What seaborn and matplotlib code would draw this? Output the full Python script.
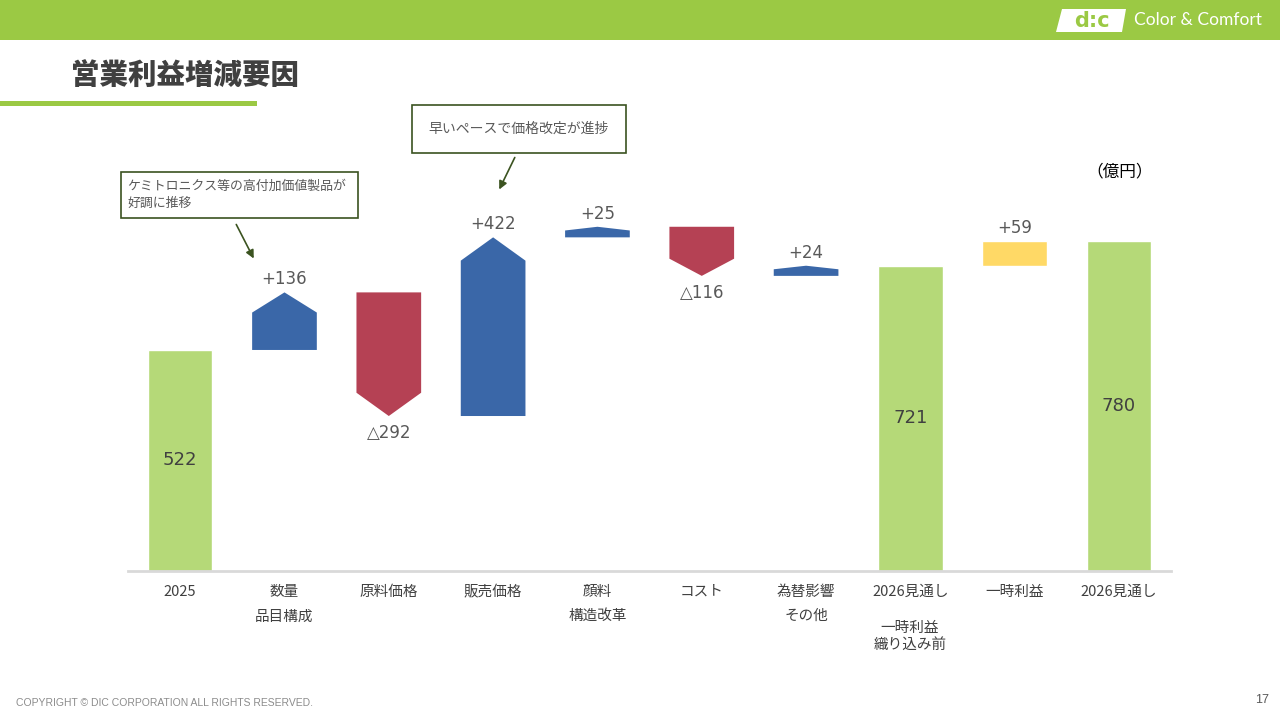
import pandas as pd
import seaborn as sns
import matplotlib.pyplot as plt
from matplotlib.patches import Polygon, Rectangle

# data (億円)
labels = ["2025", "数量\n品目構成", "原料価格", "販売価格", "顔料\n構造改革",
          "コスト", "為替影響\nその他", "2026見通し", "一時利益", "2026見通し"]
start = 522
deltas = [136, -292, 422, 25, -116, 24]
total_before = 721
one_off = 59
total_after = 780

keys = [f"c{i}" for i in range(len(labels))]
totals = pd.DataFrame({"key": [keys[0], keys[7], keys[9]],
                       "value": [start, total_before, total_after]})

GREEN = "#B5D978"
BLUE = "#3A67A8"
RED = "#B54154"
YELLOW = "#FFD966"
TXT = "#595959"
BAR_W = 0.62
NUM_FONT = ["DejaVu Sans", "Noto Sans CJK JP"]

sns.set_theme(style="white")
plt.rcParams["font.family"] = ["Noto Sans CJK JP", "DejaVu Sans"]

fig = plt.figure(figsize=(12.8, 7.2), dpi=100)
ax = fig.add_axes([0.1, 0.207, 0.815, 0.588])

sns.barplot(data=totals, x="key", y="value", order=keys, color=GREEN,
            width=BAR_W, saturation=1, ax=ax)

# floating arrow-shaped bars
level = start
for i, d in enumerate(deltas, start=1):
    b, t = level, level + d
    tip = min(0.35 * abs(d), 55)
    l, r = i - BAR_W / 2, i + BAR_W / 2
    if d > 0:
        pts = [(l, b), (r, b), (r, t - tip), (i, t), (l, t - tip)]
        ax.add_patch(Polygon(pts, closed=True, facecolor=BLUE, edgecolor="none"))
        ax.text(i, t + 31, f"+{d}", ha="center", va="center", fontsize=12,
                color=TXT, family=NUM_FONT)
    else:
        pts = [(l, b), (r, b), (r, t + tip), (i, t), (l, t + tip)]
        ax.add_patch(Polygon(pts, closed=True, facecolor=RED, edgecolor="none"))
        ax.text(i, t - 40, f"△{-d}", ha="center", va="center", fontsize=12,
                color=TXT, family=NUM_FONT)
    level = t

# one-off gain bar
ax.bar(8, one_off, bottom=total_before, width=BAR_W, color=YELLOW)
ax.text(8, total_before + one_off + 31, f"+{one_off}", ha="center", va="center",
        fontsize=12, color=TXT, family=NUM_FONT)

for i, v in zip([0, 7, 9], [start, total_before, total_after]):
    ax.text(i, v / 2, str(v), ha="center", va="center", fontsize=13,
            color="#404040", family=NUM_FONT)

ax.set_xlim(-0.5, 9.5)
ax.set_ylim(0, 1000)
ax.set_xticks(range(len(labels)), labels, fontsize=10.5, color="#404040",
              linespacing=1.95, va="top")
ax.tick_params(axis="x", length=0, pad=10)
ax.set_yticks([])
ax.set_xlabel("")
ax.set_ylabel("")
for s in ["top", "left", "right"]:
    ax.spines[s].set_visible(False)
ax.spines["bottom"].set_color("#D9D9D9")
ax.spines["bottom"].set_linewidth(2)

# extra lines under the first 2026 label
fig.text(910 / 1280, 1 - 628 / 720, "一時利益", ha="center", va="center",
         fontsize=10.5, color="#404040")
fig.text(910 / 1280, 1 - 645 / 720, "織り込み前", ha="center", va="center",
         fontsize=10.5, color="#404040")

# callouts
fig.add_artist(Rectangle((121 / 1280, 1 - 218 / 720), 237 / 1280, 46 / 720,
                         transform=fig.transFigure, facecolor="white",
                         edgecolor="#3B5320", linewidth=1.2))
fig.text(127 / 1280, 1 - 195 / 720, "ケミトロニクス等の高付加価値製品が\n好調に推移",
         ha="left", va="center", fontsize=9.3, color=TXT, linespacing=1.45)
ax.annotate("", xy=(255 / 1280, 1 - 261 / 720), xytext=(235 / 1280, 1 - 222 / 720),
            xycoords="figure fraction", textcoords="figure fraction",
            arrowprops=dict(arrowstyle="-|>", color="#3B5320", lw=1.2,
                            mutation_scale=12))

fig.add_artist(Rectangle((412 / 1280, 1 - 153 / 720), 214 / 1280, 48 / 720,
                         transform=fig.transFigure, facecolor="white",
                         edgecolor="#3B5320", linewidth=1.2))
fig.text(519 / 1280, 1 - 129 / 720, "早いペースで価格改定が進捗", ha="center",
         va="center", fontsize=10, color=TXT)
ax.annotate("", xy=(498 / 1280, 1 - 192 / 720), xytext=(516 / 1280, 1 - 155 / 720),
            xycoords="figure fraction", textcoords="figure fraction",
            arrowprops=dict(arrowstyle="-|>", color="#3B5320", lw=1.2,
                            mutation_scale=12))

fig.text(1120 / 1280, 1 - 172 / 720, "（億円）", ha="center", va="center",
         fontsize=12, color="black")

# header band, logo, title
fig.add_artist(Rectangle((0, 1 - 40 / 720), 1, 40 / 720, transform=fig.transFigure,
                         facecolor="#9BC944", edgecolor="none"))
fig.add_artist(Polygon([(1056 / 1280, 1 - 32 / 720), (1122 / 1280, 1 - 32 / 720),
                        (1126 / 1280, 1 - 9 / 720), (1062 / 1280, 1 - 9 / 720)],
                       closed=True, transform=fig.transFigure, facecolor="white",
                       edgecolor="none"))
fig.text(1092 / 1280, 1 - 21 / 720, "d:c", ha="center", va="center", fontsize=15,
         fontweight="bold", color="#9BC944", family="DejaVu Sans")
fig.text(1198 / 1280, 1 - 20 / 720, "Color & Comfort", ha="center", va="center",
         fontsize=12.5, color="white", family="Lato")

fig.text(71 / 1280, 1 - 76 / 720, "営業利益増減要因", ha="left", va="center",
         fontsize=20.5, fontweight="heavy", color="#404040")
fig.add_artist(Rectangle((0, 1 - 106 / 720), 257 / 1280, 5 / 720,
                         transform=fig.transFigure, facecolor="#9BC944",
                         edgecolor="none"))

fig.text(16 / 1280, 1 - 703 / 720, "COPYRIGHT © DIC CORPORATION ALL RIGHTS RESERVED.",
         ha="left", va="center", fontsize=7.5, color="#8C8C8C", family="Liberation Sans")
fig.text(1262 / 1280, 1 - 700 / 720, "17", ha="center", va="center", fontsize=9,
         color="#595959", family="Liberation Sans")

fig.savefig("out.png", dpi=100)
